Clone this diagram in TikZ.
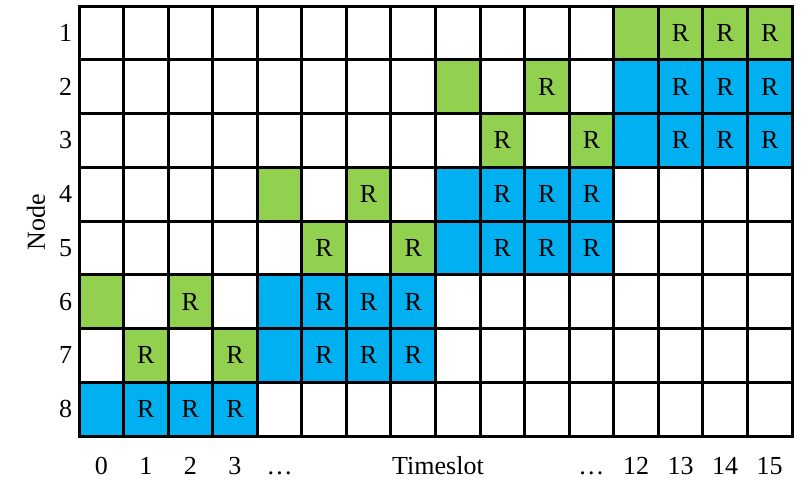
\documentclass[tikz,border=0pt]{standalone}
\usepackage{fontspec}
\setmainfont{Liberation Serif}
\definecolor{slotgreen}{HTML}{92D050}
\definecolor{slotblue}{HTML}{00B0F0}
\begin{document}
\begin{tikzpicture}[x=1pt,y=-1pt,
  font=\fontsize{26}{30}\selectfont,
  cell/.style={draw=black, line width=3pt, minimum width=44.5625pt,
    minimum height=53.75pt, inner sep=0pt, outer sep=0pt},
  st-0/.style={fill=white},
  st-g/.style={fill=slotgreen},
  st-G/.style={fill=slotgreen, execute at begin node={R}},
  st-b/.style={fill=slotblue},
  st-B/.style={fill=slotblue, execute at begin node={R}},
  axislabel/.style={inner sep=0pt, anchor=base}]
\useasboundingbox (0,0) rectangle (808,479);

% schedule: one row per node, one entry per timeslot
% 0 = idle, g = send, G = send (R), b = busy, B = busy (R)
\foreach \rowspec [count=\r] in {
  {0,0,0,0,0,0,0,0,0,0,0,0,g,G,G,G},
  {0,0,0,0,0,0,0,0,g,0,G,0,b,B,B,B},
  {0,0,0,0,0,0,0,0,0,G,0,G,b,B,B,B},
  {0,0,0,0,g,0,G,0,b,B,B,B,0,0,0,0},
  {0,0,0,0,0,G,0,G,b,B,B,B,0,0,0,0},
  {g,0,G,0,b,B,B,B,0,0,0,0,0,0,0,0},
  {0,G,0,G,b,B,B,B,0,0,0,0,0,0,0,0},
  {b,B,B,B,0,0,0,0,0,0,0,0,0,0,0,0}}{
  \foreach \s [count=\c from 0] in \rowspec {
    \node[cell, st-\s] (cell-\r-\c)
      at ({79+(\c+0.5)*44.5625}, {6+(\r-0.5)*53.75}) {};
  }
  \node (row-\r) at (65.5, {6+(\r-0.5)*53.75}) {\r};
}

% timeslot labels
\foreach \c in {0,1,2,3,12,13,14,15}
  \node[axislabel] (col-\c) at ({79+(\c+0.5)*44.5625}, 474) {\c};
\node[axislabel] (dots-left) at ({79+4.5*44.5625}, 474) {…};
\node[axislabel] (dots-right) at ({79+11.5*44.5625}, 474) {…};
\node[axislabel] (xlab) at (438, 474) {Timeslot};

% node axis title
\node[rotate=90] (ylab) at (36, 222) {Node};
\end{tikzpicture}
\end{document}
